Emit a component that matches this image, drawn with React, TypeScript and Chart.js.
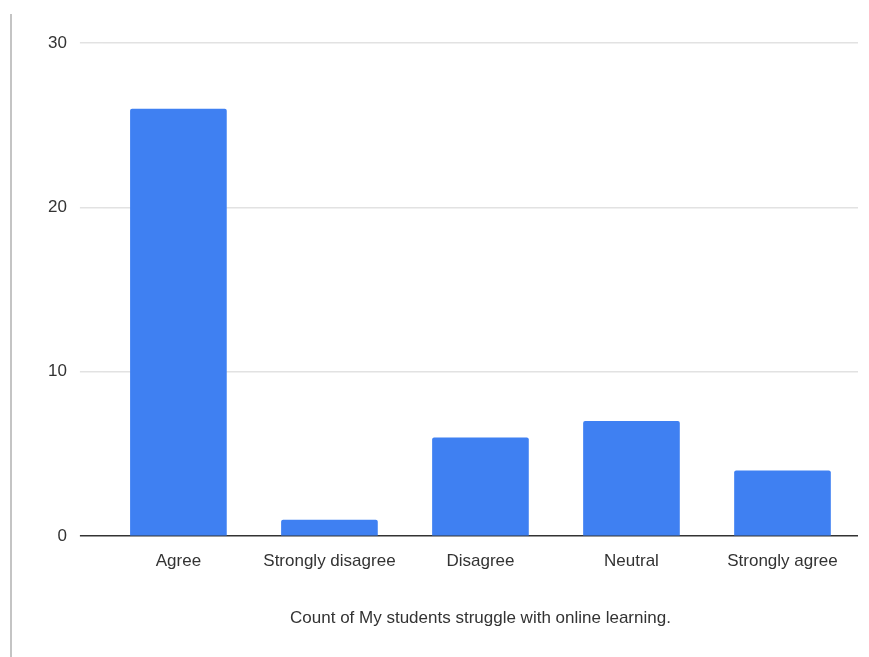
import React, { useEffect, useRef } from "react";
import { Chart, registerables } from "chart.js";

Chart.register(...registerables);

const categories: string[] = ["Agree", "Strongly disagree", "Disagree", "Neutral", "Strongly agree"];
const counts: number[] = [26, 1, 6, 7, 4];
const yTicks: number[] = [0, 10, 20, 30];
const xTitle = "Count of My students struggle with online learning.";

export default function App() {
  const ref = useRef<HTMLCanvasElement | null>(null);

  useEffect(() => {
    if (!ref.current) return;
    const font = { family: "'Liberation Sans', Arial, sans-serif", size: 17 };
    const chart = new Chart(ref.current, {
      type: "bar",
      data: {
        labels: categories,
        datasets: [
          {
            label: "Count",
            data: counts,
            backgroundColor: "#3f80f2",
            borderRadius: 2,
            borderSkipped: "bottom",
            categoryPercentage: 1,
            barPercentage: 0.64,
          },
        ],
      },
      options: {
        animation: false,
        responsive: true,
        maintainAspectRatio: false,
        layout: { padding: { left: 35, right: 11, top: 43, bottom: 28 } },
        plugins: {
          legend: { display: false },
          tooltip: { enabled: false },
        },
        scales: {
          x: {
            grid: { display: false, drawTicks: false, tickLength: 0 },
            border: { display: false },
            ticks: { color: "#333", font, padding: 15, maxRotation: 0, autoSkip: false },
            title: {
              display: true,
              text: xTitle,
              color: "#333",
              font,
              padding: { top: 22, bottom: 0 },
            },
          },
          y: {
            min: 0,
            max: 30,
            afterBuildTicks: (axis: any) => {
              axis.ticks = yTicks.map((v) => ({ value: v }));
            },
            border: { display: false },
            grid: {
              color: (ctx: any) => (ctx.tick && ctx.tick.value === 0 ? "#333" : "#e2e2e2"),
              tickColor: (ctx: any) => (ctx.tick && ctx.tick.value === 0 ? "#333" : "#e2e2e2"),
              lineWidth: 1.5,
              drawTicks: true,
              tickLength: 23,
            },
            ticks: { color: "#333", font, padding: 13 },
          },
        },
      },
    });
    return () => chart.destroy();
  }, []);

  return (
    <div style={{ position: "fixed", left: 0, top: 0, width: 869, height: 657, background: "#fff" }}>
      <div
        style={{
          position: "absolute",
          left: 10,
          top: 14,
          bottom: 0,
          width: 0,
          borderLeft: "2px solid #c4c4c4",
        }}
      />
      <canvas ref={ref} />
    </div>
  );
}
